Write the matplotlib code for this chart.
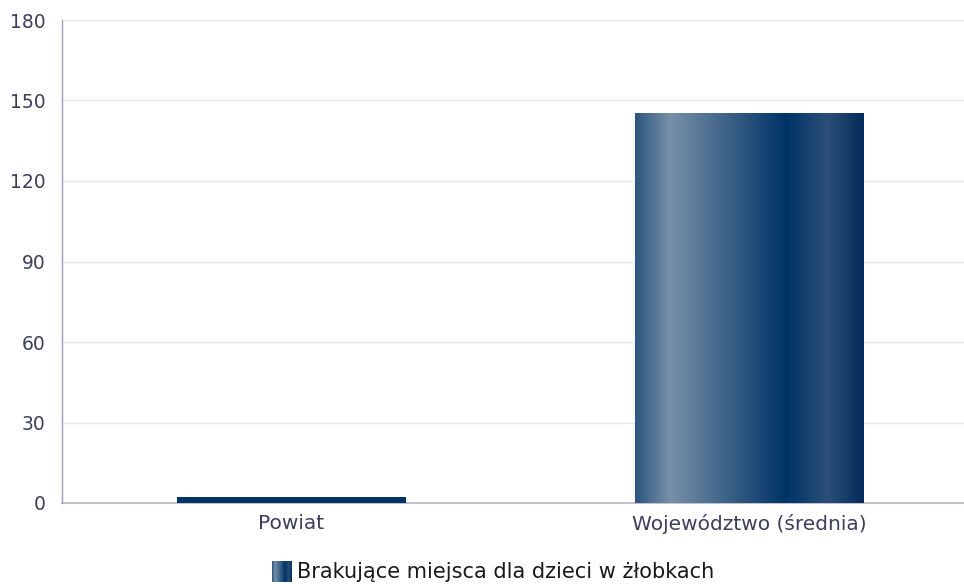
import numpy as np
import matplotlib
matplotlib.use("Agg")
import matplotlib.pyplot as plt
from matplotlib.colors import LinearSegmentedColormap

categories = ["Powiat", "Województwo (średnia)"]
values = [2.3, 145]
series_name = "Brakujące miejsca dla dzieci w żłobkach"
yticks = [0, 30, 60, 90, 120, 150, 180]

grad_cmap = LinearSegmentedColormap.from_list(
    "bar_grad",
    [(0.0, "#2c5580"), (0.15, "#7890a8"), (0.66, "#003366"),
     (0.84, "#2b4f78"), (1.0, "#042c5a")])

plt.rcParams["font.family"] = ["DejaVu Sans"]

fig = plt.figure(figsize=(9.64, 5.84), dpi=100)
W, H = 964, 584
ax = fig.add_axes([62 / W, 81 / H, 916 / W, 483 / H])

x = np.arange(len(categories))
bar_w = 0.5
bars = ax.bar(x, values, width=bar_w, color="#003366", zorder=2)
grad = np.linspace(0, 1, 256).reshape(1, -1)
for b, v in zip(bars, values):
    if v > 10:
        b.set_facecolor("none")
        x0 = b.get_x()
        ax.imshow(grad, cmap=grad_cmap, aspect="auto",
                  extent=[x0, x0 + bar_w, 0, v], zorder=2, interpolation="bilinear")

ax.set_xlim(-0.5, 1.5)
ax.set_ylim(0, 180)
ax.set_yticks(yticks)
ax.set_xticks(x)
ax.set_xticklabels(categories)
ax.grid(axis="y", color="#e6e6ee", linewidth=1, zorder=0)
ax.set_axisbelow(True)
for s in ["top", "right"]:
    ax.spines[s].set_visible(False)
ax.spines["left"].set_color("#9a9abf")
ax.spines["left"].set_linewidth(1)
ax.spines["bottom"].set_color("#c0c0d0")
ax.spines["bottom"].set_linewidth(1.5)
ax.spines["bottom"].set_zorder(1)
ax.tick_params(axis="x", length=0, labelsize=14.5, labelcolor="#3d3d5c", pad=8)
ax.tick_params(axis="y", length=0, labelsize=13.5, labelcolor="#3d3d5c", pad=12)

# legend
lax = fig.add_axes([272 / W, (584 - 582) / H, 20 / W, 21 / H])
lax.imshow(grad, cmap=grad_cmap, aspect="auto", interpolation="bilinear")
lax.set_axis_off()
fig.text(297 / W, (584 - 571.5) / H, series_name, fontsize=15, color="#1a1a1a",
         va="center", ha="left")

fig.savefig("out.png", dpi=100)
